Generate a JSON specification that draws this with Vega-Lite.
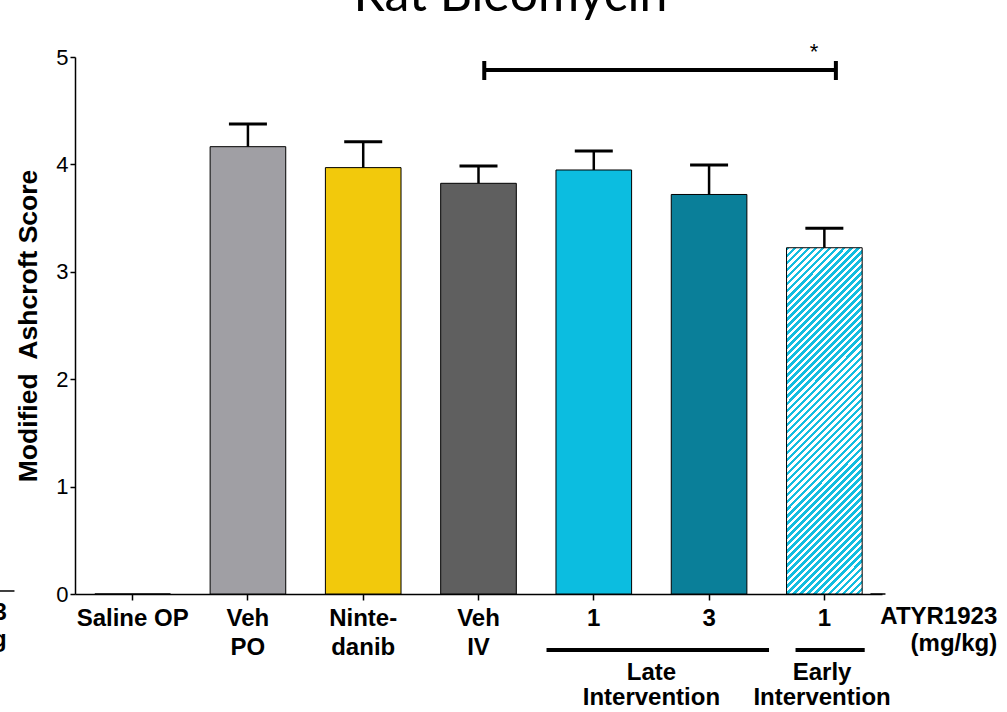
{
  "$schema": "https://vega.github.io/schema/vega-lite/v6.json",
  "width": 807,
  "height": 537,
  "autosize": {"type": "none"},
  "padding": {"left": 75, "top": 57, "right": 125, "bottom": 118},
  "background": "white",
  "title": {"text": "Rat Bleomycin", "font": "Lato", "fontSize": 50, "fontWeight": "normal", "color": "black", "anchor": "middle", "frame": "group", "dx": 32, "dy": 38, "offset": 18, "baseline": "alphabetic"},
  "config": {"view": {"stroke": null}, "axis": {"domainColor": "black", "tickColor": "black", "labelColor": "black", "titleColor": "black", "grid": false}},
  "datasets": {
    "bars": [
      {"grp": "Saline OP", "mean": 0, "upper": null},
      {"grp": "Veh PO", "mean": 4.165, "upper": 4.376},
      {"grp": "Nintedanib", "mean": 3.97, "upper": 4.21},
      {"grp": "Veh IV", "mean": 3.824, "upper": 3.985},
      {"grp": "Late 1", "mean": 3.948, "upper": 4.125},
      {"grp": "Late 3", "mean": 3.72, "upper": 3.994},
      {"grp": "Early 1", "mean": 3.224, "upper": 3.405}
    ],
    "thick": [
      {"x": 3.55, "x2": 6.6, "y": 4.879, "y2": 4.879},
      {"x": 3.55, "x2": 3.55, "y": 4.786, "y2": 4.963},
      {"x": 6.6, "x2": 6.6, "y": 4.786, "y2": 4.963},
      {"x": 4.09, "x2": 6.02, "y": -0.521, "y2": -0.521},
      {"x": 6.25, "x2": 6.85, "y": -0.521, "y2": -0.521}
    ],
    "thin": [
      {"x": 6.9, "x2": 7.03, "y": 0, "y2": 0},
      {"x": -0.66, "x2": -0.525, "y": 0.028, "y2": 0.028}
    ],
    "notesC": [
      {"x": 5.0, "y": -0.7356, "text": "Late\nIntervention"},
      {"x": 6.48, "y": -0.7356, "text": "Early\nIntervention"}
    ],
    "notesR": [
      {"x": 8.0, "y": -0.214, "text": "ATYR1923\n(mg/kg)"},
      {"x": -0.592, "y": -0.177, "text": "ATYR1923\nmg/kg"}
    ],
    "star": [{"x": 6.41, "y": 5.05, "text": "*"}]
  },
  "resolve": {"scale": {"x": "independent", "y": "independent"}, "axis": {"x": "independent", "y": "independent"}},
  "layer": [
    {
      "data": {"name": "bars"},
      "transform": [{"filter": "datum.grp != 'Early 1'"}],
      "mark": {"type": "bar", "stroke": "black", "strokeWidth": 1},
      "encoding": {
        "x": {"field": "grp", "type": "nominal", "sort": null,
          "scale": {"domain": ["Saline OP", "Veh PO", "Nintedanib", "Veh IV", "Late 1", "Late 3", "Early 1"], "paddingInner": 0.344, "paddingOuter": 0.172},
          "axis": {"title": null, "labelExpr": "datum.value == 'Veh PO' ? ['Veh','PO'] : datum.value == 'Nintedanib' ? ['Ninte-','danib'] : datum.value == 'Veh IV' ? ['Veh','IV'] : (datum.value == 'Late 1' || datum.value == 'Early 1') ? '1' : datum.value == 'Late 3' ? '3' : datum.value",
            "labelFont": "Liberation Sans", "labelFontSize": 24, "labelFontWeight": "bold", "labelLineHeight": 29, "labelPadding": 6, "labelAngle": 0, "tickSize": 6, "tickWidth": 1.5, "domainWidth": 1.5, "labelLimit": 0}},
        "y": {"field": "mean", "type": "quantitative",
          "scale": {"domain": [0, 5], "nice": false},
          "axis": {"title": "Modified\u00a0 Ashcroft Score", "titleFont": "Liberation Sans", "titleFontSize": 26.5, "titleFontWeight": "bold", "titlePadding": 13, "labelFont": "Liberation Sans", "labelFontSize": 22, "labelPadding": 2, "tickSize": 5, "tickWidth": 1.5, "domainWidth": 1.5, "values": [0, 1, 2, 3, 4, 5]}},
        "fill": {"field": "grp", "type": "nominal",
          "scale": {"domain": ["Saline OP", "Veh PO", "Nintedanib", "Veh IV", "Late 1", "Late 3"], "range": ["#ffffff", "#a09fa4", "#f2c90c", "#5f5f5f", "#0cbde0", "#0a7f99"]},
          "legend": null}
      }
    },
    {
      "data": {"name": "bars"},
      "transform": [{"filter": "datum.grp == 'Early 1'"}],
      "mark": {"type": "bar", "stroke": "black", "strokeWidth": 1,
        "fill": {"gradient": "linear", "x1": 0, "y1": 0, "x2": 0.2543, "y2": 1.163, "stops": [
          {"offset":0,"color":"#12bde0"},
          {"offset":0.00833,"color":"#12bde0"},{"offset":0.00833,"color":"#fff"},
          {"offset":0.01667,"color":"#fff"},{"offset":0.01667,"color":"#12bde0"},
          {"offset":0.025,"color":"#12bde0"},{"offset":0.025,"color":"#fff"},
          {"offset":0.03333,"color":"#fff"},{"offset":0.03333,"color":"#12bde0"},
          {"offset":0.04167,"color":"#12bde0"},{"offset":0.04167,"color":"#fff"},
          {"offset":0.05,"color":"#fff"},{"offset":0.05,"color":"#12bde0"},
          {"offset":0.05833,"color":"#12bde0"},{"offset":0.05833,"color":"#fff"},
          {"offset":0.06667,"color":"#fff"},{"offset":0.06667,"color":"#12bde0"},
          {"offset":0.075,"color":"#12bde0"},{"offset":0.075,"color":"#fff"},
          {"offset":0.08333,"color":"#fff"},{"offset":0.08333,"color":"#12bde0"},
          {"offset":0.09167,"color":"#12bde0"},{"offset":0.09167,"color":"#fff"},
          {"offset":0.1,"color":"#fff"},{"offset":0.1,"color":"#12bde0"},
          {"offset":0.10833,"color":"#12bde0"},{"offset":0.10833,"color":"#fff"},
          {"offset":0.11667,"color":"#fff"},{"offset":0.11667,"color":"#12bde0"},
          {"offset":0.125,"color":"#12bde0"},{"offset":0.125,"color":"#fff"},
          {"offset":0.13333,"color":"#fff"},{"offset":0.13333,"color":"#12bde0"},
          {"offset":0.14167,"color":"#12bde0"},{"offset":0.14167,"color":"#fff"},
          {"offset":0.15,"color":"#fff"},{"offset":0.15,"color":"#12bde0"},
          {"offset":0.15833,"color":"#12bde0"},{"offset":0.15833,"color":"#fff"},
          {"offset":0.16667,"color":"#fff"},{"offset":0.16667,"color":"#12bde0"},
          {"offset":0.175,"color":"#12bde0"},{"offset":0.175,"color":"#fff"},
          {"offset":0.18333,"color":"#fff"},{"offset":0.18333,"color":"#12bde0"},
          {"offset":0.19167,"color":"#12bde0"},{"offset":0.19167,"color":"#fff"},
          {"offset":0.2,"color":"#fff"},{"offset":0.2,"color":"#12bde0"},
          {"offset":0.20833,"color":"#12bde0"},{"offset":0.20833,"color":"#fff"},
          {"offset":0.21667,"color":"#fff"},{"offset":0.21667,"color":"#12bde0"},
          {"offset":0.225,"color":"#12bde0"},{"offset":0.225,"color":"#fff"},
          {"offset":0.23333,"color":"#fff"},{"offset":0.23333,"color":"#12bde0"},
          {"offset":0.24167,"color":"#12bde0"},{"offset":0.24167,"color":"#fff"},
          {"offset":0.25,"color":"#fff"},{"offset":0.25,"color":"#12bde0"},
          {"offset":0.25833,"color":"#12bde0"},{"offset":0.25833,"color":"#fff"},
          {"offset":0.26667,"color":"#fff"},{"offset":0.26667,"color":"#12bde0"},
          {"offset":0.275,"color":"#12bde0"},{"offset":0.275,"color":"#fff"},
          {"offset":0.28333,"color":"#fff"},{"offset":0.28333,"color":"#12bde0"},
          {"offset":0.29167,"color":"#12bde0"},{"offset":0.29167,"color":"#fff"},
          {"offset":0.3,"color":"#fff"},{"offset":0.3,"color":"#12bde0"},
          {"offset":0.30833,"color":"#12bde0"},{"offset":0.30833,"color":"#fff"},
          {"offset":0.31667,"color":"#fff"},{"offset":0.31667,"color":"#12bde0"},
          {"offset":0.325,"color":"#12bde0"},{"offset":0.325,"color":"#fff"},
          {"offset":0.33333,"color":"#fff"},{"offset":0.33333,"color":"#12bde0"},
          {"offset":0.34167,"color":"#12bde0"},{"offset":0.34167,"color":"#fff"},
          {"offset":0.35,"color":"#fff"},{"offset":0.35,"color":"#12bde0"},
          {"offset":0.35833,"color":"#12bde0"},{"offset":0.35833,"color":"#fff"},
          {"offset":0.36667,"color":"#fff"},{"offset":0.36667,"color":"#12bde0"},
          {"offset":0.375,"color":"#12bde0"},{"offset":0.375,"color":"#fff"},
          {"offset":0.38333,"color":"#fff"},{"offset":0.38333,"color":"#12bde0"},
          {"offset":0.39167,"color":"#12bde0"},{"offset":0.39167,"color":"#fff"},
          {"offset":0.4,"color":"#fff"},{"offset":0.4,"color":"#12bde0"},
          {"offset":0.40833,"color":"#12bde0"},{"offset":0.40833,"color":"#fff"},
          {"offset":0.41667,"color":"#fff"},{"offset":0.41667,"color":"#12bde0"},
          {"offset":0.425,"color":"#12bde0"},{"offset":0.425,"color":"#fff"},
          {"offset":0.43333,"color":"#fff"},{"offset":0.43333,"color":"#12bde0"},
          {"offset":0.44167,"color":"#12bde0"},{"offset":0.44167,"color":"#fff"},
          {"offset":0.45,"color":"#fff"},{"offset":0.45,"color":"#12bde0"},
          {"offset":0.45833,"color":"#12bde0"},{"offset":0.45833,"color":"#fff"},
          {"offset":0.46667,"color":"#fff"},{"offset":0.46667,"color":"#12bde0"},
          {"offset":0.475,"color":"#12bde0"},{"offset":0.475,"color":"#fff"},
          {"offset":0.48333,"color":"#fff"},{"offset":0.48333,"color":"#12bde0"},
          {"offset":0.49167,"color":"#12bde0"},{"offset":0.49167,"color":"#fff"},
          {"offset":0.5,"color":"#fff"},{"offset":0.5,"color":"#12bde0"},
          {"offset":0.50833,"color":"#12bde0"},{"offset":0.50833,"color":"#fff"},
          {"offset":0.51667,"color":"#fff"},{"offset":0.51667,"color":"#12bde0"},
          {"offset":0.525,"color":"#12bde0"},{"offset":0.525,"color":"#fff"},
          {"offset":0.53333,"color":"#fff"},{"offset":0.53333,"color":"#12bde0"},
          {"offset":0.54167,"color":"#12bde0"},{"offset":0.54167,"color":"#fff"},
          {"offset":0.55,"color":"#fff"},{"offset":0.55,"color":"#12bde0"},
          {"offset":0.55833,"color":"#12bde0"},{"offset":0.55833,"color":"#fff"},
          {"offset":0.56667,"color":"#fff"},{"offset":0.56667,"color":"#12bde0"},
          {"offset":0.575,"color":"#12bde0"},{"offset":0.575,"color":"#fff"},
          {"offset":0.58333,"color":"#fff"},{"offset":0.58333,"color":"#12bde0"},
          {"offset":0.59167,"color":"#12bde0"},{"offset":0.59167,"color":"#fff"},
          {"offset":0.6,"color":"#fff"},{"offset":0.6,"color":"#12bde0"},
          {"offset":0.60833,"color":"#12bde0"},{"offset":0.60833,"color":"#fff"},
          {"offset":0.61667,"color":"#fff"},{"offset":0.61667,"color":"#12bde0"},
          {"offset":0.625,"color":"#12bde0"},{"offset":0.625,"color":"#fff"},
          {"offset":0.63333,"color":"#fff"},{"offset":0.63333,"color":"#12bde0"},
          {"offset":0.64167,"color":"#12bde0"},{"offset":0.64167,"color":"#fff"},
          {"offset":0.65,"color":"#fff"},{"offset":0.65,"color":"#12bde0"},
          {"offset":0.65833,"color":"#12bde0"},{"offset":0.65833,"color":"#fff"},
          {"offset":0.66667,"color":"#fff"},{"offset":0.66667,"color":"#12bde0"},
          {"offset":0.675,"color":"#12bde0"},{"offset":0.675,"color":"#fff"},
          {"offset":0.68333,"color":"#fff"},{"offset":0.68333,"color":"#12bde0"},
          {"offset":0.69167,"color":"#12bde0"},{"offset":0.69167,"color":"#fff"},
          {"offset":0.7,"color":"#fff"},{"offset":0.7,"color":"#12bde0"},
          {"offset":0.70833,"color":"#12bde0"},{"offset":0.70833,"color":"#fff"},
          {"offset":0.71667,"color":"#fff"},{"offset":0.71667,"color":"#12bde0"},
          {"offset":0.725,"color":"#12bde0"},{"offset":0.725,"color":"#fff"},
          {"offset":0.73333,"color":"#fff"},{"offset":0.73333,"color":"#12bde0"},
          {"offset":0.74167,"color":"#12bde0"},{"offset":0.74167,"color":"#fff"},
          {"offset":0.75,"color":"#fff"},{"offset":0.75,"color":"#12bde0"},
          {"offset":0.75833,"color":"#12bde0"},{"offset":0.75833,"color":"#fff"},
          {"offset":0.76667,"color":"#fff"},{"offset":0.76667,"color":"#12bde0"},
          {"offset":0.775,"color":"#12bde0"},{"offset":0.775,"color":"#fff"},
          {"offset":0.78333,"color":"#fff"},{"offset":0.78333,"color":"#12bde0"},
          {"offset":0.79167,"color":"#12bde0"},{"offset":0.79167,"color":"#fff"},
          {"offset":0.8,"color":"#fff"},{"offset":0.8,"color":"#12bde0"},
          {"offset":0.80833,"color":"#12bde0"},{"offset":0.80833,"color":"#fff"},
          {"offset":0.81667,"color":"#fff"},{"offset":0.81667,"color":"#12bde0"},
          {"offset":0.825,"color":"#12bde0"},{"offset":0.825,"color":"#fff"},
          {"offset":0.83333,"color":"#fff"},{"offset":0.83333,"color":"#12bde0"},
          {"offset":0.84167,"color":"#12bde0"},{"offset":0.84167,"color":"#fff"},
          {"offset":0.85,"color":"#fff"},{"offset":0.85,"color":"#12bde0"},
          {"offset":0.85833,"color":"#12bde0"},{"offset":0.85833,"color":"#fff"},
          {"offset":0.86667,"color":"#fff"},{"offset":0.86667,"color":"#12bde0"},
          {"offset":0.875,"color":"#12bde0"},{"offset":0.875,"color":"#fff"},
          {"offset":0.88333,"color":"#fff"},{"offset":0.88333,"color":"#12bde0"},
          {"offset":0.89167,"color":"#12bde0"},{"offset":0.89167,"color":"#fff"},
          {"offset":0.9,"color":"#fff"},{"offset":0.9,"color":"#12bde0"},
          {"offset":0.90833,"color":"#12bde0"},{"offset":0.90833,"color":"#fff"},
          {"offset":0.91667,"color":"#fff"},{"offset":0.91667,"color":"#12bde0"},
          {"offset":0.925,"color":"#12bde0"},{"offset":0.925,"color":"#fff"},
          {"offset":0.93333,"color":"#fff"},{"offset":0.93333,"color":"#12bde0"},
          {"offset":0.94167,"color":"#12bde0"},{"offset":0.94167,"color":"#fff"},
          {"offset":0.95,"color":"#fff"},{"offset":0.95,"color":"#12bde0"},
          {"offset":0.95833,"color":"#12bde0"},{"offset":0.95833,"color":"#fff"},
          {"offset":0.96667,"color":"#fff"},{"offset":0.96667,"color":"#12bde0"},
          {"offset":0.975,"color":"#12bde0"},{"offset":0.975,"color":"#fff"},
          {"offset":0.98333,"color":"#fff"},{"offset":0.98333,"color":"#12bde0"},
          {"offset":0.99167,"color":"#12bde0"},{"offset":0.99167,"color":"#fff"},
          {"offset":1,"color":"#fff"}
        ]}},
      "encoding": {
        "x": {"field": "grp", "type": "nominal", "sort": null, "scale": {"domain": ["Saline OP", "Veh PO", "Nintedanib", "Veh IV", "Late 1", "Late 3", "Early 1"], "paddingInner": 0.344, "paddingOuter": 0.172}, "axis": null},
        "y": {"field": "mean", "type": "quantitative", "scale": {"domain": [0, 5], "nice": false}, "axis": null}
      }
    },
    {
      "data": {"name": "bars"},
      "transform": [{"filter": "datum.upper != null"}],
      "mark": {"type": "rule", "color": "black", "strokeWidth": 2.5},
      "encoding": {
        "x": {"field": "grp", "type": "nominal", "sort": null, "scale": {"domain": ["Saline OP", "Veh PO", "Nintedanib", "Veh IV", "Late 1", "Late 3", "Early 1"], "paddingInner": 0.344, "paddingOuter": 0.172}, "axis": null},
        "y": {"field": "mean", "type": "quantitative", "scale": {"domain": [0, 5], "nice": false}, "axis": null},
        "y2": {"field": "upper"}
      }
    },
    {
      "data": {"name": "bars"},
      "transform": [{"filter": "datum.upper != null"}],
      "mark": {"type": "tick", "color": "black", "thickness": 3, "size": 38, "opacity": 1},
      "encoding": {
        "x": {"field": "grp", "type": "nominal", "sort": null, "scale": {"domain": ["Saline OP", "Veh PO", "Nintedanib", "Veh IV", "Late 1", "Late 3", "Early 1"], "paddingInner": 0.344, "paddingOuter": 0.172}, "axis": null},
        "y": {"field": "upper", "type": "quantitative", "scale": {"domain": [0, 5], "nice": false}, "axis": null}
      }
    },
    {
      "data": {"name": "thick"},
      "mark": {"type": "rule", "color": "black", "strokeWidth": 4, "clip": false},
      "encoding": {
        "x": {"field": "x", "type": "quantitative", "scale": {"domain": [0, 7], "nice": false, "zero": false}, "axis": null},
        "x2": {"field": "x2"},
        "y": {"field": "y", "type": "quantitative", "scale": {"domain": [0, 5], "nice": false}, "axis": null},
        "y2": {"field": "y2"}
      }
    },
    {
      "data": {"name": "thin"},
      "mark": {"type": "rule", "color": "black", "strokeWidth": 1.5, "clip": false},
      "encoding": {
        "x": {"field": "x", "type": "quantitative", "scale": {"domain": [0, 7], "nice": false, "zero": false}, "axis": null},
        "x2": {"field": "x2"},
        "y": {"field": "y", "type": "quantitative", "scale": {"domain": [0, 5], "nice": false}, "axis": null},
        "y2": {"field": "y2"}
      }
    },
    {
      "data": {"name": "notesC"},
      "mark": {"type": "text", "align": "center", "baseline": "middle", "lineBreak": "\n", "lineHeight": 25, "font": "Liberation Sans", "fontSize": 24, "fontWeight": "bold", "color": "black", "clip": false},
      "encoding": {
        "x": {"field": "x", "type": "quantitative", "scale": {"domain": [0, 7], "nice": false, "zero": false}, "axis": null},
        "y": {"field": "y", "type": "quantitative", "scale": {"domain": [0, 5], "nice": false}, "axis": null},
        "text": {"field": "text"}
      }
    },
    {
      "data": {"name": "notesR"},
      "mark": {"type": "text", "align": "right", "baseline": "middle", "lineBreak": "\n", "lineHeight": 27, "font": "Liberation Sans", "fontSize": 24, "fontWeight": "bold", "color": "black", "clip": false},
      "encoding": {
        "x": {"field": "x", "type": "quantitative", "scale": {"domain": [0, 7], "nice": false, "zero": false}, "axis": null},
        "y": {"field": "y", "type": "quantitative", "scale": {"domain": [0, 5], "nice": false}, "axis": null},
        "text": {"field": "text"}
      }
    },
    {
      "data": {"name": "star"},
      "mark": {"type": "text", "align": "center", "baseline": "middle", "font": "Liberation Sans", "fontSize": 22, "color": "black", "clip": false},
      "encoding": {
        "x": {"field": "x", "type": "quantitative", "scale": {"domain": [0, 7], "nice": false, "zero": false}, "axis": null},
        "y": {"field": "y", "type": "quantitative", "scale": {"domain": [0, 5], "nice": false}, "axis": null},
        "text": {"field": "text"}
      }
    }
  ]
}
